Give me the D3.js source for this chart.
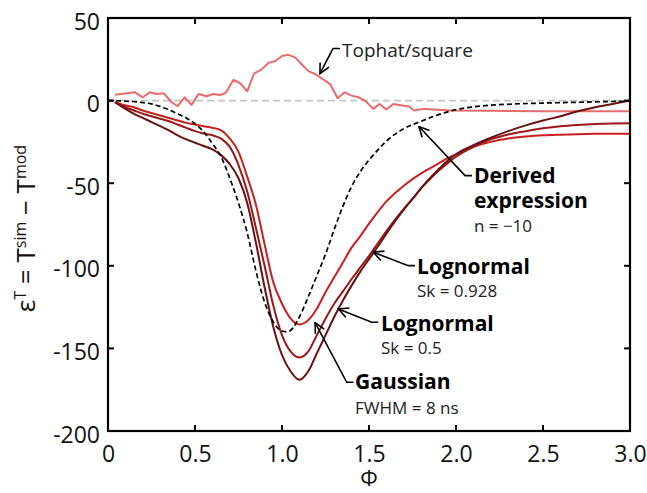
<!DOCTYPE html>
<html>
<head>
<meta charset="utf-8">
<script src="https://cdn.jsdelivr.net/npm/d3@7"></script>
<style>
  html, body { margin: 0; padding: 0; background: #fff; }
  svg { display: block; font-family: "Open Sans", "Noto Sans", sans-serif; }
</style>
</head>
<body>
<svg id="chart" width="647" height="493"></svg>
<script>
// ---------------- data ----------------
const xTicks = [0, 0.5, 1.0, 1.5, 2.0, 2.5, 3.0];
const xTickLabels = ["0", "0.5", "1.0", "1.5", "2.0", "2.5", "3.0"];
const yTicks = [50, 0, -50, -100, -150, -200];
const yTickLabels = ["50", "0", "-50", "-100", "-150", "-200"];

const phiGrid = [0.04,0.1,0.15,0.2,0.25,0.3,0.35,0.4,0.45,0.5,
  0.55,0.6,0.65,0.7,0.75,0.8,0.85,0.9,0.95,1.0,
  1.05,1.1,1.15,1.2,1.25,1.3,1.35,1.4,1.45,1.5,
  1.55,1.6,1.65,1.7,1.75,1.8,1.85,1.9,1.95,2.0,
  2.1,2.2,2.3,2.4,2.5,2.6,2.7,2.8,2.9,3.0];

const gaussian = [-1,-3,-4,-6,-7.5,-9,-10.5,-12,-13.5,-14.5,
  -15.5,-16.5,-18,-23,-31,-46,-63,-87,-110,-123,
  -132,-135.5,-133,-126,-116,-107,-98,-89,-82,-74.5,
  -67.5,-61,-56,-51.5,-47.5,-44,-41,-38,-35,-32.5,
  -28,-25,-23,-21.8,-21,-20.6,-20.3,-20.1,-20,-20];

const lognormal05 = [-1,-4,-6,-8,-9.5,-11,-12.5,-14.5,-16.5,-18.5,
  -20,-21,-23,-28,-39,-55,-77,-100,-124,-142,
  -152,-155.5,-152,-142,-132,-123,-115.5,-108,-101,-94,
  -86.5,-79,-72,-65.5,-59.5,-53,-47.5,-42.5,-38,-34,
  -28,-23.5,-20.5,-18.5,-16.8,-15.5,-14.7,-14.2,-13.9,-13.7];

const lognormal0928 = [-1,-5,-8,-10.5,-13,-15.5,-18,-21,-23.5,-25.5,
  -27.5,-29.5,-33,-38.5,-47,-62,-86,-113,-137,-154,
  -164,-169,-164,-153,-142,-131,-121,-112,-103.5,-96,
  -88.5,-80.5,-73,-66,-59.5,-53,-47,-41.5,-36.5,-32.5,
  -27,-22.5,-18.5,-15,-12,-9.5,-6.5,-4,-2,0];

const phiDerived = [0,0.1,0.2,0.25,0.3,0.35,0.4,0.45,0.5,0.55,
  0.6,0.65,0.7,0.75,0.8,0.85,0.9,0.95,1.0,1.03,
  1.05,1.1,1.15,1.2,1.25,1.3,1.35,1.4,1.45,1.5,
  1.55,1.6,1.7,1.8,1.9,2.0,2.1,2.2,2.3,2.5,2.7,3.0];
const derived = [0,-0.3,-1.2,-2,-3.5,-5.5,-8,-10.5,-14,-19,
  -26,-34,-47,-62,-80,-103,-122,-134,-139.5,-140,
  -139,-131,-119,-106,-93,-78,-64,-52,-43,-36,
  -30,-24.5,-17,-12.5,-8.5,-5.5,-3.8,-2.8,-2.2,-1.5,-1,-0.3];

const phiTophat = [0.04,0.155,0.2,0.24,0.28,0.32,0.366,0.4,0.44,0.48,
  0.52,0.567,0.605,0.644,0.676,0.72,0.76,0.8,0.84,0.88,
  0.925,0.96,1.0,1.036,1.075,1.113,1.15,1.2,1.276,1.32,
  1.36,1.4,1.44,1.477,1.525,1.56,1.6,1.64,1.69,1.73,
  1.76,1.81,1.87,1.97,2.2,2.5,3.0];
const tophat = [3.6,5,2,5,4,4.4,-1,-3.4,2,-2.6,
  4,2.6,4,3.4,4.6,12.5,10.5,5.6,16.5,18.6,
  23,23.8,27,27.7,26.2,22,18,15.5,10,1.4,
  5,3,2,0,-5,-2,-5.4,-2,-3,-3.6,
  -6,-5,-5.4,-6,-6.2,-6.4,-6.5];

// annotations: arrow tip, knee, text anchor (data coords)
const annotations = [
  {tip:[1.218,16.3], knee:[1.293,31.5], start:[1.333,31.5], at:[1.345,26.6],
   lines:[{t:"Tophat/square", bold:false, size:19, dy:0}]},
  {tip:[1.787,-15.7], knee:[2.052,-45.4], start:[2.092,-45.4], at:[2.103,-49.6],
   lines:[{t:"Derived", bold:true, size:21, dy:0},{t:"expression", bold:true, size:21, dy:25},{t:"n = \u221210", bold:false, size:17, dy:49.5}]},
  {tip:[1.525,-91.8], knee:[1.726,-99.9], start:[1.764,-99.9], at:[1.776,-104.7],
   lines:[{t:"Lognormal", bold:true, size:21, dy:0},{t:"Sk = 0.928", bold:false, size:17, dy:23.5}]},
  {tip:[1.324,-126.1], knee:[1.516,-134.2], start:[1.553,-134.2], at:[1.569,-139.2],
   lines:[{t:"Lognormal", bold:true, size:21, dy:0},{t:"Sk = 0.5", bold:false, size:17, dy:23}]},
  {tip:[1.19,-134.4], knee:[1.372,-170.5], start:[1.41,-170.5], at:[1.42,-174.3],
   lines:[{t:"Gaussian", bold:true, size:21, dy:0},{t:"FWHM = 8 ns", bold:false, size:17, dy:25}]}
];

// ---------------- layout ----------------
const W = 647, H = 493;
const m = {left:108, top:18, right:17, bottom:62};
const svg = d3.select("#chart");
const x = d3.scaleLinear().domain([0, 3]).range([m.left, W - m.right]);
const y = d3.scaleLinear().domain([-200, 50]).range([H - m.bottom, m.top]);

const plot = svg.append("g");

// zero reference line
plot.append("line")
  .attr("x1", x(0)).attr("x2", x(3)).attr("y1", y(0)).attr("y2", y(0))
  .attr("stroke", "#c4c4c4").attr("stroke-width", 1.6).attr("stroke-dasharray", "7,4");

const line = d3.line().x(d => x(d[0])).y(d => y(d[1]));
const smooth = d3.line().x(d => x(d[0])).y(d => y(d[1])).curve(d3.curveMonotoneX);

function pairs(xs, ys) { return xs.map((v, i) => [v, ys[i]]); }

plot.append("path").datum(pairs(phiTophat, tophat)).attr("d", line)
  .attr("fill", "none").attr("stroke", "#e86a6a").attr("stroke-width", 2).attr("stroke-linejoin", "round");

const series = [
  {ys: gaussian, color: "#c9201f"},
  {ys: lognormal05, color: "#9c1818"},
  {ys: lognormal0928, color: "#6a1212"}
];
series.forEach(s => {
  plot.append("path").datum(pairs(phiGrid, s.ys)).attr("d", smooth)
    .attr("fill", "none").attr("stroke", s.color).attr("stroke-width", 2).attr("stroke-linejoin", "round");
});

plot.append("path").datum(pairs(phiDerived, derived)).attr("d", smooth)
  .attr("fill", "none").attr("stroke", "#000").attr("stroke-width", 1.7).attr("stroke-dasharray", "5,3");

// ---------------- axes / frame ----------------
const axes = svg.append("g");
const tickLen = 6;
const bottomAxis = d3.axisBottom(x).tickValues(xTicks).tickSize(0).tickFormat((d, i) => xTickLabels[i]);
const gx = axes.append("g").attr("transform", `translate(0,${y(-200)})`).call(bottomAxis);
gx.select(".domain").remove();
gx.selectAll("text").attr("dy", 0).attr("y", 31).style("font-size", "23px")
  .style("font-family", '"Open Sans", sans-serif').attr("fill", "#111");

const leftAxis = d3.axisLeft(y).tickValues(yTicks).tickSize(0).tickFormat((d, i) => yTickLabels[i]);
const gy = axes.append("g").attr("transform", `translate(${x(0)},0)`).call(leftAxis);
gy.select(".domain").remove();
gy.selectAll("text").attr("x", -8).attr("dy", "0.35em").attr("y", 3).style("font-size", "23px")
  .style("font-family", '"Open Sans", sans-serif').attr("fill", "#111");

// inward ticks on all sides
xTicks.forEach(t => {
  axes.append("line").attr("x1", x(t)).attr("x2", x(t)).attr("y1", y(-200)).attr("y2", y(-200) - tickLen)
    .attr("stroke", "#000").attr("stroke-width", 2);
  axes.append("line").attr("x1", x(t)).attr("x2", x(t)).attr("y1", y(50)).attr("y2", y(50) + tickLen)
    .attr("stroke", "#000").attr("stroke-width", 2);
});
yTicks.forEach(t => {
  axes.append("line").attr("x1", x(0)).attr("x2", x(0) + tickLen).attr("y1", y(t)).attr("y2", y(t))
    .attr("stroke", "#000").attr("stroke-width", 2);
  axes.append("line").attr("x1", x(3)).attr("x2", x(3) - tickLen).attr("y1", y(t)).attr("y2", y(t))
    .attr("stroke", "#000").attr("stroke-width", 2);
});
axes.append("rect").attr("x", x(0)).attr("y", y(50)).attr("width", x(3) - x(0)).attr("height", y(-200) - y(50))
  .attr("fill", "none").attr("stroke", "#000").attr("stroke-width", 2.2);

// axis labels
svg.append("text").attr("x", (x(0) + x(3)) / 2).attr("y", 486).attr("text-anchor", "middle")
  .style("font-size", "22px").attr("fill", "#111").text("\u03A6");

const yl = svg.append("text").attr("transform", `translate(35,${(y(50) + y(-200)) / 2 + 4}) rotate(-90)`)
  .attr("text-anchor", "middle").style("font-size", "26px").attr("fill", "#111");
const parts = [["\u03B5", false], ["T", true], [" = T", false], ["sim", true], [" \u2212 T", false], ["mod", true]];
parts.forEach(([t, sup]) => {
  const ts = yl.append("tspan").text(t);
  if (sup) ts.style("font-size", "16px").attr("baseline-shift", "9px");
});

// ---------------- annotations ----------------
const defs = svg.append("defs");
defs.append("marker").attr("id", "arr").attr("viewBox", "0 0 12 12").attr("refX", 11).attr("refY", 6)
  .attr("markerWidth", 12).attr("markerHeight", 12).attr("markerUnits", "userSpaceOnUse").attr("orient", "auto")
  .append("path").attr("d", "M1,1 L11,6 L1,11").attr("fill", "none").attr("stroke", "#000").attr("stroke-width", 1.6);

const ann = svg.append("g");
annotations.forEach(a => {
  const pts = [a.start, a.knee, a.tip].map(p => [x(p[0]), y(p[1])]);
  ann.append("path").attr("d", d3.line()(pts)).attr("fill", "none").attr("stroke", "#000")
    .attr("stroke-width", 1.6).attr("marker-end", "url(#arr)");
  a.lines.forEach(l => {
    ann.append("text").attr("x", x(a.at[0])).attr("y", y(a.at[1]) + l.dy)
      .style("font-size", l.size + "px").style("font-weight", l.bold ? 700 : 400)
      .attr("fill", l.bold ? "#000" : "#222").text(l.t);
  });
});
</script>
</body>
</html>
